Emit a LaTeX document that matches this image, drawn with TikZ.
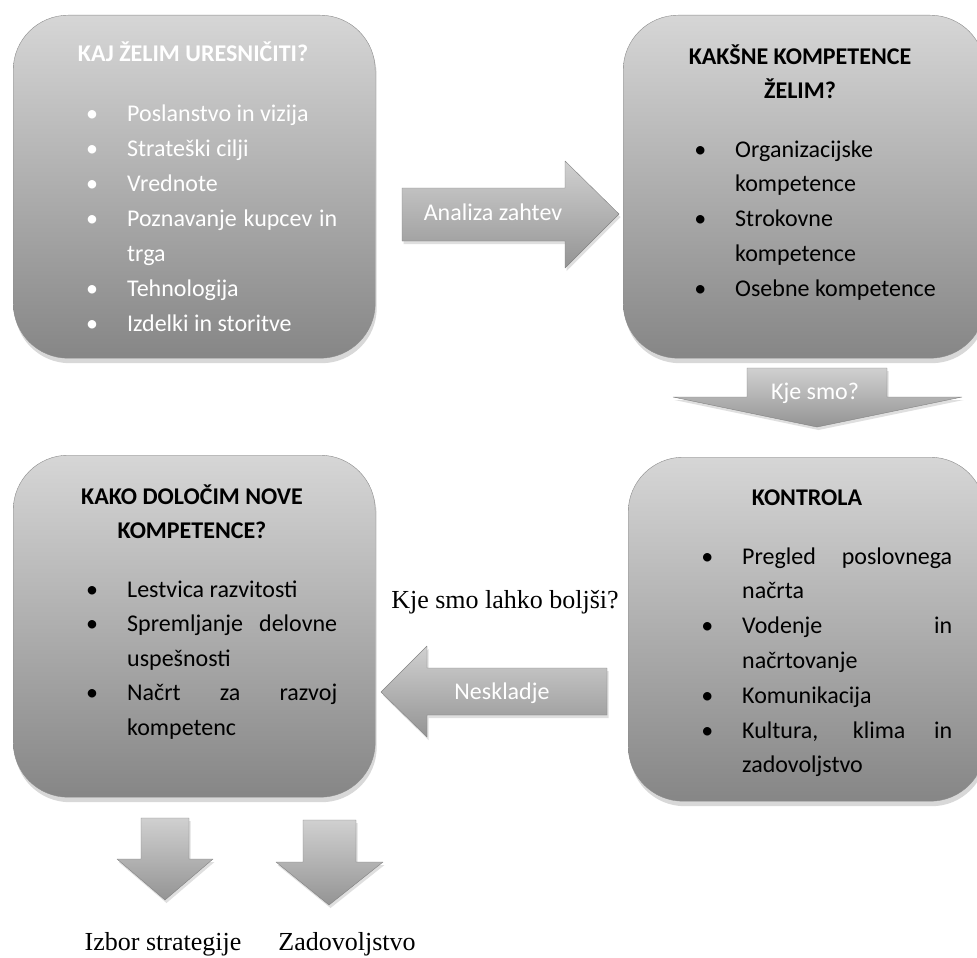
\documentclass[tikz,border=0pt]{standalone}
\usepackage{fontspec}
\setmainfont{Carlito}
\newfontfamily\timesfont{Liberation Serif}
\usetikzlibrary{shadows}

\newcommand\bulletmark{\llap{•\hspace{29pt}}}
\newcommand\justline[1]{\makebox[210pt][s]{#1}}

\begin{document}
\begin{tikzpicture}[x=1pt, y=-1pt, line join=round,
  panel/.style={draw=boxline, rounded corners=55pt, top color=boxtop, bottom color=boxbot,
    anchor=north west, drop shadow={shadow xshift=1.5pt, shadow yshift=-5pt, opacity=0.3}},
  blockarrow/.style={draw=arrowline, top color=arrowtop, bottom color=arrowbot,
    drop shadow={shadow xshift=1.5pt, shadow yshift=-3pt, opacity=0.25}},
  entry/.style={anchor=base west, inner sep=0pt, font=\fontsize{24pt}{35pt}\selectfont},
  heading/.style={anchor=base, inner sep=0pt, font=\fontsize{24pt}{35pt}\selectfont\bfseries},
  arrowtext/.style={anchor=base, inner sep=0pt, text=white, font=\fontsize{24pt}{35pt}\selectfont},
  remark/.style={anchor=base, inner sep=0pt, font=\timesfont\fontsize{26pt}{30pt}\selectfont}]
  \definecolor{boxtop}{RGB}{214,214,214}
  \definecolor{boxbot}{RGB}{134,134,134}
  \definecolor{boxline}{RGB}{140,140,140}
  \definecolor{arrowtop}{RGB}{208,208,208}
  \definecolor{arrowbot}{RGB}{148,148,148}
  \definecolor{arrowline}{RGB}{130,130,130}
  \useasboundingbox[fill=white] (0,0) rectangle (977,958);

  \node[panel, minimum width=362pt, minimum height=343pt] (want) at (13,15) {};
  \node[panel, minimum width=362pt, minimum height=343pt] (skills) at (623,15) {};
  \node[panel, minimum width=362pt, minimum height=342pt] (define) at (13,455) {};
  \node[panel, minimum width=357pt, minimum height=344pt] (control) at (628,457) {};

  \node[heading, text=white] (want-title) at (193,62) {KAJ ŽELIM URESNIČITI?};
  \foreach \t [count=\i from 0] in {\bulletmark Poslanstvo in vizija, \bulletmark Strateški cilji,
      \bulletmark Vrednote, \bulletmark\justline{Poznavanje kupcev in}, trga,
      \bulletmark Tehnologija, \bulletmark Izdelki in storitve}
    \node[entry, text=white] (want-\i) at (127,{121+35*\i}) {\t};

  \node[heading] (skills-title) at (800,64) {KAKŠNE KOMPETENCE};
  \node[heading] (skills-title2) at (800,98) {ŽELIM?};
  \foreach \t [count=\i from 0] in {\bulletmark Organizacijske, kompetence,
      \bulletmark Strokovne, kompetence, \bulletmark Osebne kompetence}
    \node[entry] (skills-\i) at (735,{157+34.75*\i}) {\t};

  \node[heading] (define-title) at (192,504) {KAKO DOLOČIM NOVE};
  \node[heading] (define-title2) at (192,538) {KOMPETENCE?};
  \foreach \t [count=\i from 0] in {\bulletmark Lestvica razvitosti,
      \bulletmark\justline{Spremljanje delovne}, uspešnosti,
      \bulletmark\justline{Načrt za razvoj}, kompetenc}
    \node[entry] (define-\i) at (127,{597+34.5*\i}) {\t};

  \node[heading] (control-title) at (807,505) {KONTROLA};
  \foreach \t [count=\i from 0] in {\bulletmark\justline{Pregled poslovnega}, načrta,
      \bulletmark\justline{Vodenje in}, načrtovanje, \bulletmark Komunikacija,
      {\bulletmark\justline{Kultura, klima in}}, zadovoljstvo}
    \node[entry] (control-\i) at (742,{564+34.8*\i}) {\t};

  \path[blockarrow] (402,188) -- (565,188) -- (565,161) -- (619,214) -- (565,268) -- (565,241) -- (402,241) -- cycle;
  \node[arrowtext] (analysis) at (493,220) {Analiza zahtev};
  \path[blockarrow] (747,368) -- (887,368) -- (887,397) -- (962,397) -- (817,427) -- (673,397) -- (747,397) -- cycle;
  \node[arrowtext] (where) at (815,399) {Kje smo?};
  \path[blockarrow] (607,668) -- (427,668) -- (427,646) -- (381,692) -- (427,737) -- (427,715) -- (607,715) -- cycle;
  \node[arrowtext] (mismatch) at (502,699) {Neskladje};
  \path[blockarrow] (141,818) -- (189,818) -- (189,859) -- (213,859) -- (165,900) -- (117,859) -- (141,859) -- cycle;
  \path[blockarrow] (303,820) -- (356,820) -- (356,862) -- (383,862) -- (329,905) -- (276,862) -- (303,862) -- cycle;

  \node[remark] (better) at (505,608) {Kje smo lahko boljši?};
  \node[remark] (strategy) at (163,950) {Izbor strategije};
  \node[remark] (satisfaction) at (347,950) {Zadovoljstvo};
\end{tikzpicture}
\end{document}
